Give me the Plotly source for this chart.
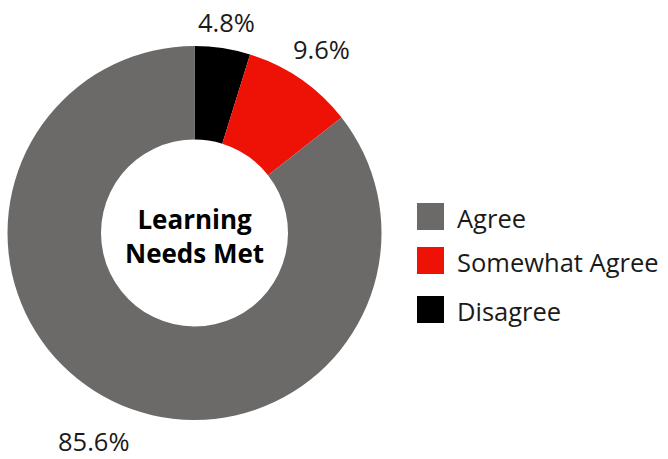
import math
import plotly.graph_objects as go

# Survey responses for "Learning Needs Met"
categories = ["Disagree", "Somewhat Agree", "Agree"]
shares = [4.8, 9.6, 85.6]
colors = ["#000000", "#ee1106", "#6b6a69"]
legend_order = ["Agree", "Somewhat Agree", "Disagree"]

W, H = 668, 459
cx, cy, r = 194.5, 233, 187          # pie centre and outer radius, px
label_radius = [213, 224, 231]       # distance of each value label from the centre, px
FONT = "Open Sans"
TXT = "#1a1a1a"

def px_to_paper(x, y):
    return x / W, 1 - y / H

fig = go.Figure()
fig.add_trace(go.Pie(
    labels=categories,
    values=shares,
    sort=False,
    direction="clockwise",
    rotation=0,
    hole=0.5,
    marker=dict(colors=colors, line=dict(width=0)),
    textinfo="none",
    showlegend=False,
    domain=dict(x=[(cx - r) / W, (cx + r) / W], y=[(H - cy - r) / H, (H - cy + r) / H]),
    hoverinfo="label+value",
))

# Value labels outside each slice, at the slice's mid angle (clockwise from 12 o'clock)
total = sum(shares)
start = 0.0
for val, rad in zip(shares, label_radius):
    mid = (start + val / 2) / total * 2 * math.pi
    start += val
    lx = cx + rad * math.sin(mid)
    ly = cy - rad * math.cos(mid)
    px, py = px_to_paper(lx, ly)
    fig.add_annotation(
        x=px, y=py, xref="paper", yref="paper", showarrow=False,
        text=f"{val:.1f}%", xanchor="center", yanchor="middle", borderpad=0,
        font=dict(family=FONT, size=25.5, color=TXT),
    )

# Centre title inside the hole
tx, ty = px_to_paper(cx, 236)
fig.add_annotation(
    x=tx, y=ty, xref="paper", yref="paper", showarrow=False,
    text="<b>Learning<br>Needs Met</b>", xanchor="center", yanchor="middle",
    font=dict(family=FONT, size=26, color="#000000"),
)

# Legend: coloured squares with labels to the right
col_of = dict(zip(categories, colors))
row_y = [216.5, 260.5, 309.5]
sq = 27
for name, yc in zip(legend_order, row_y):
    x0, y0 = px_to_paper(417, yc - sq / 2)
    x1, y1 = px_to_paper(417 + sq, yc + sq / 2)
    fig.add_shape(type="rect", xref="paper", yref="paper",
                  x0=x0, x1=x1, y0=y1, y1=y0,
                  fillcolor=col_of[name], line=dict(width=0))
    lx, ly = px_to_paper(455, yc + 1.5)
    fig.add_annotation(
        x=lx, y=ly, xref="paper", yref="paper", showarrow=False,
        text=name, xanchor="left", yanchor="middle",
        font=dict(family=FONT, size=25.5, color=TXT),
    )

fig.update_layout(
    width=W, height=H,
    margin=dict(l=0, r=0, t=0, b=0),
    paper_bgcolor="white", plot_bgcolor="white",
    showlegend=False,
)

fig.write_html("out.html")
